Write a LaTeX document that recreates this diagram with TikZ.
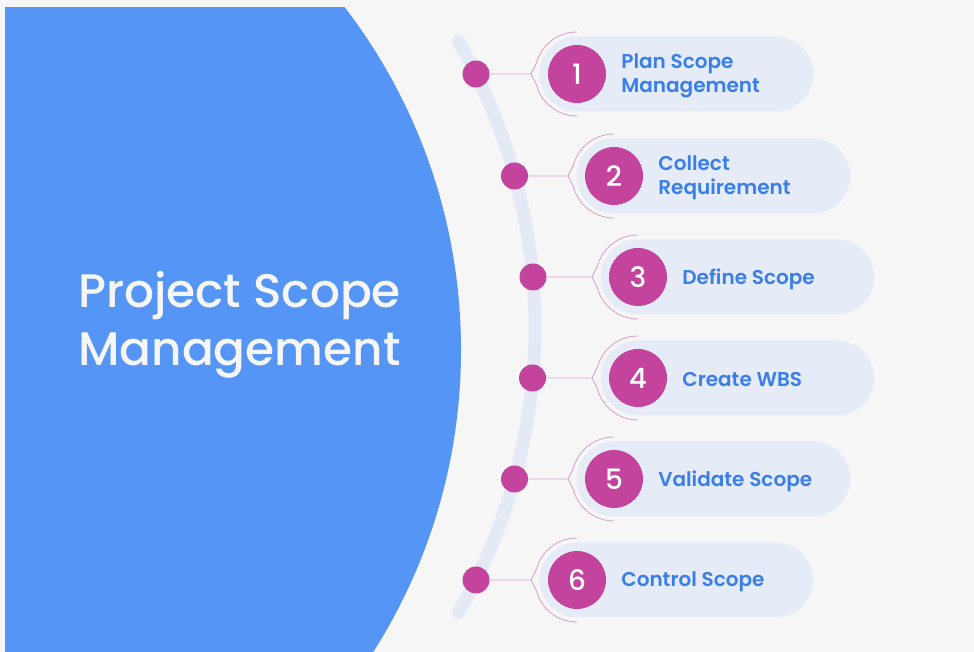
\documentclass[tikz,border=0pt]{standalone}
\usepackage{fontspec}
\setmainfont{Poppins}
\IfFontExistsTF{Poppins SemiBold}{\newfontfamily\semib{Poppins SemiBold}}{\newcommand\semib{\bfseries}}
\IfFontExistsTF{Poppins Medium}{\newfontfamily\medi{Poppins Medium}}{\newcommand\medi{\relax}}
\usepackage{tikz}
\usetikzlibrary{positioning}
\definecolor{bgcol}{HTML}{F6F6F6}
\definecolor{bigblue}{HTML}{5595F5}
\definecolor{trackcol}{HTML}{E4EAF5}
\definecolor{pillcol}{HTML}{E6ECF7}
\definecolor{dotcol}{HTML}{C4449D}
\definecolor{textblue}{HTML}{3A7EEA}
\definecolor{pinkline}{HTML}{D9A5CF}

\begin{document}
\begin{tikzpicture}[x=1pt, y=1pt,
    dot/.style={circle, fill=dotcol, minimum size=27pt, inner sep=0pt},
    num/.style={circle, fill=dotcol, minimum size=58pt, inner sep=0pt, text=white, font=\medi\fontsize{28}{28}\selectfont},
    pill/.style={fill=pillcol, rounded corners=37.5pt, minimum height=75pt, minimum width=273.5pt, inner sep=0pt, anchor=west},
    lbl/.style={text=textblue, inner sep=0pt, align=left, yshift=-2pt, font=\semib\fontsize{20}{24}\selectfont},
    link/.style={draw=pinkline, line width=0.9pt},
    track/.style={draw=trackcol, line width=13pt, line cap=round}]
    % background and the big half disc
    \fill[bgcol] (0,0) rectangle (974,652);
    \begin{scope}
      \clip (5,0) rectangle (974,644);
      \fill[bigblue] (-102,302) circle (563);
    \end{scope}
    \node[text=bgcol, anchor=west, align=left, inner sep=0pt, font=\medi\fontsize{47}{58}\selectfont] (title) at (78,327) {Project Scope\\Management};

    % curved track
    \coordinate (tc) at (-36,325);
    \draw[track] ([shift={(-30:571pt)}]tc) arc[start angle=-30, end angle=30, radius=571pt];

    % steps
    \node[pill] (p1) at (539.5,578) {};
    \node[pill] (p2) at (576.5,476) {};
    \node[pill] (p3) at (600.5,375) {};
    \node[pill] (p4) at (600.5,274) {};
    \node[pill] (p5) at (576.5,173) {};
    \node[pill] (p6) at (539.5,72) {};

    \node[num] (n1) at (577,578) {1};
    \node[num] (n2) at (614,476) {2};
    \node[num] (n3) at (638,375) {3};
    \node[num] (n4) at (638,274) {4};
    \node[num] (n5) at (614,173) {5};
    \node[num] (n6) at (577,72) {6};

    \node[dot] (d1) at (476,578) {};
    \node[dot] (d2) at (514.5,476) {};
    \node[dot] (d3) at (533,375) {};
    \node[dot] (d4) at (532.5,274) {};
    \node[dot] (d5) at (514.5,173) {};
    \node[dot] (d6) at (476,72) {};

    \node[lbl, right=15pt of n1] (t1) {Plan Scope\\Management};
    \node[lbl, right=15pt of n2] (t2) {Collect\\Requirement};
    \node[lbl, right=15pt of n3] (t3) {Define Scope};
    \node[lbl, right=15pt of n4] (t4) {Create WBS};
    \node[lbl, right=15pt of n5] (t5) {Validate Scope};
    \node[lbl, right=15pt of n6] (t6) {Control Scope};

    \draw[link] (d1) -- ([xshift=-46pt]n1.center) -- ([shift={(165:42pt)}]n1.center) arc[start angle=165, end angle=90, radius=42pt]
      ([xshift=-46pt]n1.center) -- ([shift={(195:42pt)}]n1.center) arc[start angle=195, end angle=270, radius=42pt];
    \draw[link] (d2) -- ([xshift=-46pt]n2.center) -- ([shift={(165:42pt)}]n2.center) arc[start angle=165, end angle=90, radius=42pt]
      ([xshift=-46pt]n2.center) -- ([shift={(195:42pt)}]n2.center) arc[start angle=195, end angle=270, radius=42pt];
    \draw[link] (d3) -- ([xshift=-46pt]n3.center) -- ([shift={(165:42pt)}]n3.center) arc[start angle=165, end angle=90, radius=42pt]
      ([xshift=-46pt]n3.center) -- ([shift={(195:42pt)}]n3.center) arc[start angle=195, end angle=270, radius=42pt];
    \draw[link] (d4) -- ([xshift=-46pt]n4.center) -- ([shift={(165:42pt)}]n4.center) arc[start angle=165, end angle=90, radius=42pt]
      ([xshift=-46pt]n4.center) -- ([shift={(195:42pt)}]n4.center) arc[start angle=195, end angle=270, radius=42pt];
    \draw[link] (d5) -- ([xshift=-46pt]n5.center) -- ([shift={(165:42pt)}]n5.center) arc[start angle=165, end angle=90, radius=42pt]
      ([xshift=-46pt]n5.center) -- ([shift={(195:42pt)}]n5.center) arc[start angle=195, end angle=270, radius=42pt];
    \draw[link] (d6) -- ([xshift=-46pt]n6.center) -- ([shift={(165:42pt)}]n6.center) arc[start angle=165, end angle=90, radius=42pt]
      ([xshift=-46pt]n6.center) -- ([shift={(195:42pt)}]n6.center) arc[start angle=195, end angle=270, radius=42pt];
  \end{tikzpicture}
\end{document}
